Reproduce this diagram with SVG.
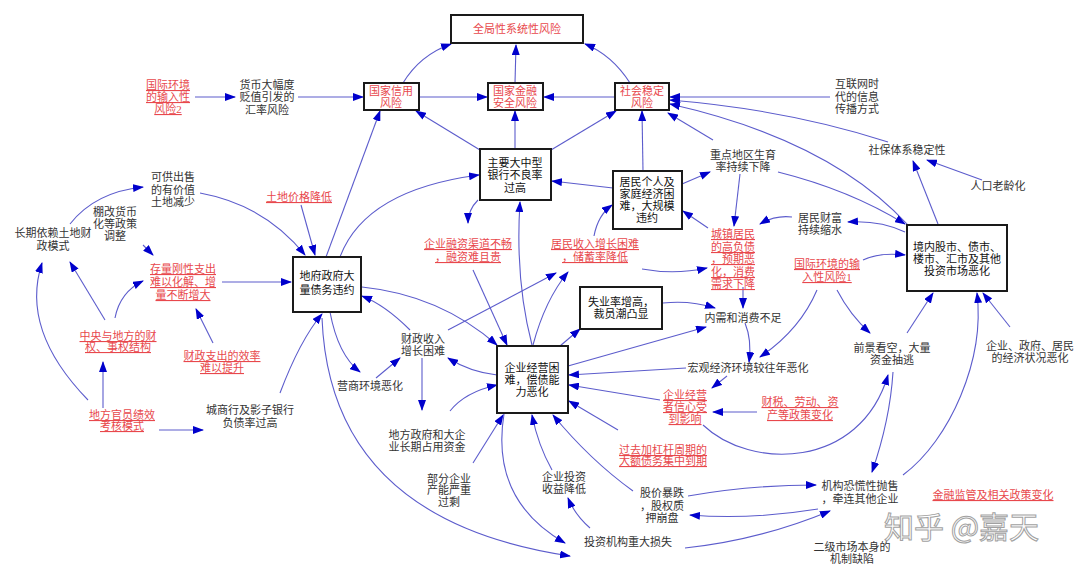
<svg xmlns="http://www.w3.org/2000/svg" width="1080" height="573" viewBox="0 0 1080 573">
<style>
text{font-family:"Liberation Serif","Noto Sans CJK SC",serif;font-size:11px;fill:#333;text-anchor:middle}
.r{fill:#e8484c;text-decoration:underline}
.rb{fill:#e8484c}
.k{fill:#111}
.box{fill:#fff;stroke:#1a1a1a;stroke-width:2}
#edges path{fill:none;stroke:#5c5ccc;stroke-width:1.1;marker-end:url(#a)}
.wm{font-family:"Noto Sans CJK SC",sans-serif;font-size:30px;fill:#fff;stroke:#8a8a8a;stroke-width:1;text-anchor:start;opacity:.8}
</style>
<defs>
<marker id="a" markerUnits="userSpaceOnUse" markerWidth="11" markerHeight="8" refX="10" refY="4" orient="auto"><path d="M0,0 L11,4 L0,8 z" fill="#0000cc"/></marker>
</defs>
<rect width="1080" height="573" fill="#fff"/>
<g id="edges">
<path d="M403,83 Q420,55 451,44"/>
<path d="M515,83 L516,45"/>
<path d="M630,83 Q612,55 585,44"/>
<path d="M420,97 L487,97"/>
<path d="M615,97 L544,97"/>
<path d="M298,97 L363,97"/>
<path d="M195,97 L235,97"/>
<path d="M830,97 L670,97"/>
<path d="M888,142 Q790,110 670,100"/>
<path d="M908,225 Q830,140 670,104"/>
<path d="M778,172 Q850,190 905,224"/>
<path d="M713,140 L668,113"/>
<path d="M643,171 L642,111"/>
<path d="M551,150 L616,111"/>
<path d="M515,149 L515,111"/>
<path d="M480,150 L416,111"/>
<path d="M326,257 L380,111"/>
<path d="M340,257 Q365,190 479,175"/>
<path d="M613,188 L552,181"/>
<path d="M682,184 L710,172"/>
<path d="M740,174 L734,226"/>
<path d="M708,228 L683,211"/>
<path d="M594,236 Q598,215 612,205"/>
<path d="M642,269 Q675,275 707,268"/>
<path d="M743,287 L743,308"/>
<path d="M792,217 Q775,215 760,224"/>
<path d="M905,232 Q880,220 848,222"/>
<path d="M938,224 L913,161"/>
<path d="M982,180 L927,160"/>
<path d="M863,260 Q880,252 905,255"/>
<path d="M817,290 Q800,330 760,357"/>
<path d="M837,290 Q850,315 870,333"/>
<path d="M907,333 L933,293"/>
<path d="M1010,327 L983,293"/>
<path d="M903,475 C950,440 985,360 977,293"/>
<path d="M893,372 Q890,420 872,472"/>
<path d="M703,425 C750,470 860,470 888,375"/>
<path d="M688,496 Q750,485 816,485"/>
<path d="M818,509 Q750,520 690,515"/>
<path d="M685,548 Q760,540 830,511"/>
<path d="M633,491 Q590,460 553,415"/>
<path d="M552,470 Q538,445 532,415"/>
<path d="M590,528 Q575,515 568,498"/>
<path d="M504,414 Q490,500 565,543"/>
<path d="M322,318 Q330,520 570,556"/>
<path d="M280,393 Q300,340 322,314"/>
<path d="M159,430 L203,430"/>
<path d="M103,408 L103,362"/>
<path d="M88,400 Q20,330 42,263"/>
<path d="M105,320 L70,262"/>
<path d="M115,318 Q120,292 143,281"/>
<path d="M70,224 Q95,192 143,187"/>
<path d="M200,193 Q265,205 305,255"/>
<path d="M301,205 L315,255"/>
<path d="M143,245 L153,255"/>
<path d="M222,282 L291,282"/>
<path d="M213,343 L196,309"/>
<path d="M478,200 Q468,210 468,223"/>
<path d="M473,270 L507,345"/>
<path d="M532,345 Q515,280 520,202"/>
<path d="M533,345 Q545,300 568,272"/>
<path d="M448,330 L556,273"/>
<path d="M362,287 Q440,295 497,345"/>
<path d="M410,330 Q385,305 362,296"/>
<path d="M330,312 Q338,355 360,372"/>
<path d="M376,378 L400,358"/>
<path d="M422,358 L422,410"/>
<path d="M497,375 Q470,372 448,358"/>
<path d="M450,411 Q465,392 497,385"/>
<path d="M473,463 L503,415"/>
<path d="M560,346 L580,329"/>
<path d="M568,366 L706,327"/>
<path d="M663,303 Q690,300 715,308"/>
<path d="M686,368 L569,375"/>
<path d="M727,376 L712,388"/>
<path d="M660,400 L569,385"/>
<path d="M757,412 L713,412"/>
<path d="M618,430 L569,401"/>
<path d="M745,323 Q752,340 749,362"/>
</g>
<g id="n_global"><rect class="box" x="451" y="15" width="132" height="28"/><text class="rb" x="517" y="33">全局性系统性风险</text></g>
<g id="n_credit"><rect class="box" x="364" y="83" width="55" height="27"/><text class="rb"><tspan x="391" y="95">国家信用</tspan><tspan x="391" y="107">风险</tspan></text></g>
<g id="n_finsec"><rect class="box" x="488" y="83" width="55" height="27"/><text class="rb"><tspan x="515" y="95">国家金融</tspan><tspan x="515" y="107">安全风险</tspan></text></g>
<g id="n_social"><rect class="box" x="615" y="83" width="54" height="27"/><text class="rb"><tspan x="642" y="95">社会稳定</tspan><tspan x="642" y="107">风险</tspan></text></g>
<g id="n_bank"><rect class="box" x="480" y="149" width="71" height="51"/><text class="k"><tspan x="515" y="167">主要大中型</tspan><tspan x="515" y="179">银行不良率</tspan><tspan x="515" y="192">过高</tspan></text></g>
<g id="n_household"><rect class="box" x="613" y="171" width="69" height="58"/><text class="k"><tspan x="647" y="186">居民个人及</tspan><tspan x="647" y="198">家庭经济困</tspan><tspan x="647" y="210">难，大规模</tspan><tspan x="647" y="222">违约</tspan></text></g>
<g id="n_localgov"><rect class="box" x="293" y="257" width="68" height="55"/><text class="k"><tspan x="327" y="280">地府政府大</tspan><tspan x="327" y="294">量债务违约</tspan></text></g>
<g id="n_enterprise"><rect class="box" x="497" y="346" width="71" height="67"/><text class="k"><tspan x="532" y="372">企业经营困</tspan><tspan x="532" y="384">难，偿债能</tspan><tspan x="532" y="396">力恶化</tspan></text></g>
<g id="n_unemploy"><rect class="box" x="580" y="287" width="82" height="42"/><text class="k"><tspan x="621" y="306">失业率增高，</tspan><tspan x="621" y="318">裁员潮凸显</tspan></text></g>
<g id="n_market"><rect class="box" x="907" y="225" width="100" height="66"/><text class="k"><tspan x="957" y="251">境内股市、债市、</tspan><tspan x="957" y="263">楼市、汇市及其他</tspan><tspan x="957" y="275">投资市场恶化</tspan></text></g>
<g id="n_intl2"><text class="r"><tspan x="168" y="89">国际环境</tspan><tspan x="168" y="101">的输入性</tspan><tspan x="168" y="113">风险2</tspan></text></g>
<g id="n_currency"><text><tspan x="267" y="89">货币大幅度</tspan><tspan x="267" y="101">贬值引发的</tspan><tspan x="267" y="114">汇率风险</tspan></text></g>
<g id="n_internet"><text><tspan x="857" y="88">互联网时</tspan><tspan x="857" y="101">代的信息</tspan><tspan x="857" y="113">传播方式</tspan></text></g>
<g id="n_socsec"><text x="907" y="154">社保体系稳定性</text></g>
<g id="n_aging"><text x="998" y="190">人口老龄化</text></g>
<g id="n_birth"><text><tspan x="743" y="159">重点地区生育</tspan><tspan x="743" y="171">率持续下降</tspan></text></g>
<g id="n_land"><text><tspan x="173" y="181">可供出售</tspan><tspan x="173" y="194">的有价值</tspan><tspan x="173" y="206">土地减少</tspan></text></g>
<g id="n_shantytown"><text><tspan x="115" y="216">棚改货币</tspan><tspan x="115" y="228">化等政策</tspan><tspan x="115" y="240">调整</tspan></text></g>
<g id="n_landfinance"><text><tspan x="53" y="237">长期依赖土地财</tspan><tspan x="53" y="250">政模式</tspan></text></g>
<g id="n_landprice"><text class="r" x="299" y="201">土地价格降低</text></g>
<g id="n_rigid"><text class="r"><tspan x="183" y="273">存量刚性支出</tspan><tspan x="183" y="286">难以化解、增</tspan><tspan x="183" y="299">量不断增大</tspan></text></g>
<g id="n_fiscal"><text class="r"><tspan x="118" y="340">中央与地方的财</tspan><tspan x="118" y="351">权、事权结构</tspan></text></g>
<g id="n_efficiency"><text class="r"><tspan x="222" y="360">财政支出的效率</tspan><tspan x="222" y="372">难以提升</tspan></text></g>
<g id="n_officials"><text class="r"><tspan x="122" y="419">地方官员绩效</tspan><tspan x="122" y="430">考核模式</tspan></text></g>
<g id="n_citybank"><text><tspan x="250" y="414">城商行及影子银行</tspan><tspan x="250" y="427">负债率过高</tspan></text></g>
<g id="n_bizenv"><text x="370" y="390">营商环境恶化</text></g>
<g id="n_revenue"><text><tspan x="423" y="343">财政收入</tspan><tspan x="423" y="355">增长困难</tspan></text></g>
<g id="n_occupy"><text><tspan x="427" y="439">地方政府和大企</tspan><tspan x="427" y="451">业长期占用资金</tspan></text></g>
<g id="n_overcap"><text><tspan x="449" y="483">部分企业</tspan><tspan x="449" y="494">产能严重</tspan><tspan x="449" y="506">过剩</tspan></text></g>
<g id="n_invreturn"><text><tspan x="564" y="481">企业投资</tspan><tspan x="564" y="493">收益降低</tspan></text></g>
<g id="n_invloss"><text x="628" y="546">投资机构重大损失</text></g>
<g id="n_stockcrash"><text><tspan x="662" y="497">股价暴跌</tspan><tspan x="662" y="510">，股权质</tspan><tspan x="662" y="522">押崩盘</tspan></text></g>
<g id="n_leverage"><text class="r"><tspan x="663" y="454">过去加杠杆周期的</tspan><tspan x="663" y="465">大额债务集中到期</tspan></text></g>
<g id="n_confidence"><text class="r"><tspan x="685" y="399">企业经营</tspan><tspan x="685" y="411">者信心受</tspan><tspan x="685" y="423">到影响</tspan></text></g>
<g id="n_financing"><text class="r"><tspan x="468" y="248">企业融资渠道不畅</tspan><tspan x="468" y="261">，融资难且贵</tspan></text></g>
<g id="n_income"><text class="r"><tspan x="595" y="248">居民收入增长困难</tspan><tspan x="595" y="261">，储蓄率降低</tspan></text></g>
<g id="n_urbandebt"><text class="r"><tspan x="733" y="238">城镇居民</tspan><tspan x="733" y="251">的高负债</tspan><tspan x="733" y="263">，预期恶</tspan><tspan x="733" y="276">化，消费</tspan><tspan x="733" y="288">需求下降</tspan></text></g>
<g id="n_wealth"><text><tspan x="820" y="222">居民财富</tspan><tspan x="820" y="234">持续缩水</tspan></text></g>
<g id="n_intl1"><text class="r"><tspan x="827" y="268">国际环境的输</tspan><tspan x="827" y="281">入性风险1</tspan></text></g>
<g id="n_demand"><text x="743" y="322">内需和消费不足</text></g>
<g id="n_macro"><text x="748" y="372">宏观经济环境较往年恶化</text></g>
<g id="n_policy"><text class="r"><tspan x="800" y="406">财税、劳动、资</tspan><tspan x="800" y="419">产等政策变化</tspan></text></g>
<g id="n_outflow"><text><tspan x="892" y="352">前景看空，大量</tspan><tspan x="892" y="364">资金抽逃</tspan></text></g>
<g id="n_economy"><text><tspan x="1030" y="350">企业、政府、居民</tspan><tspan x="1030" y="362">的经济状况恶化</tspan></text></g>
<g id="n_panic"><text><tspan x="860" y="490">机构恐慌性抛售</tspan><tspan x="860" y="503">，牵连其他企业</tspan></text></g>
<g id="n_secondary"><text><tspan x="852" y="551">二级市场本身的</tspan><tspan x="852" y="563">机制缺陷</tspan></text></g>
<g id="n_regulation"><text class="r" x="993" y="499">金融监管及相关政策变化</text></g>
<g id="watermark"><text class="wm" x="884" y="538">知乎 @嘉天</text></g>
</svg>
